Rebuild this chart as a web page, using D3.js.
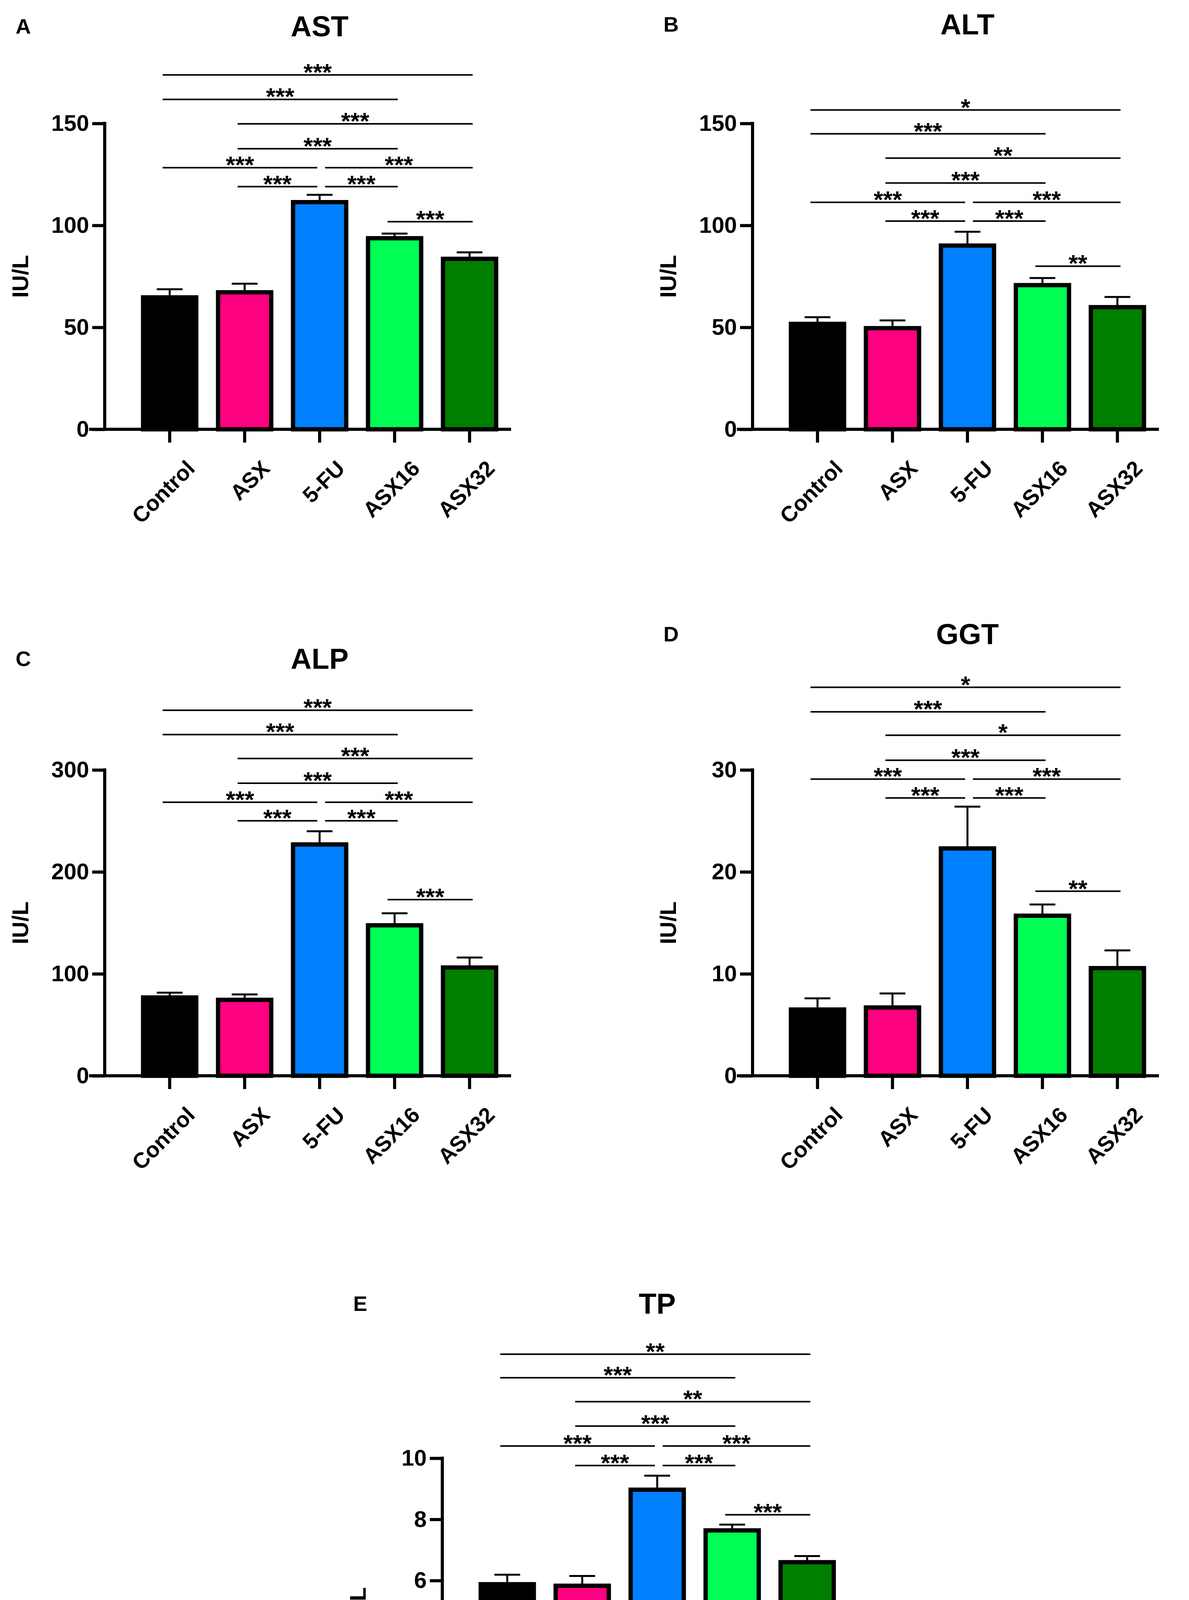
<!DOCTYPE html>
<html>
<head>
<meta charset="utf-8">
<script src="https://cdn.jsdelivr.net/npm/d3@7"></script>
<style>
  body { margin: 0; background: #fff; }
  svg { display: block; }
  text { font-family: "Liberation Sans", Arial, sans-serif; font-weight: bold; }
  .tick text { font-family: "Liberation Sans Narrow", "Liberation Sans", Arial, sans-serif; }
</style>
</head>
<body>
<svg id="fig" width="3043" height="4748"></svg>
<script>
var groups = ['Control', 'ASX', '5-FU', 'ASX16', 'ASX32'];
var colors = ['#000000', '#ff0080', '#0080ff', '#00ff55', '#007f00'];

// means and upper error bar (mean + error)
var astMean = [64.7, 67.2, 111.4, 93.7, 83.6];
var astTop  = [68.7, 71.4, 115, 96, 86.8];
var altMean = [51.7, 49.6, 90.1, 70.7, 59.9];
var altTop  = [55, 53.4, 96.9, 74.2, 64.9];
var alpMean = [76.8, 74.5, 226.9, 147.6, 106.2];
var alpTop  = [81.5, 79.8, 239.8, 159.4, 116];
var ggtMean = [6.5, 6.7, 22.3, 15.7, 10.56];
var ggtTop  = [7.6, 8.07, 26.4, 16.8, 12.3];
var tpMean  = [5.88, 5.83, 8.97, 7.64, 6.6];
var tpTop   = [6.19, 6.15, 9.43, 7.83, 6.8];

// comparison pairs, shared by all panels
var pairs = [[0, 4], [0, 3], [1, 4], [1, 3], [0, 2], [2, 4], [1, 2], [2, 3], [3, 4]];
// bracket heights in data units, per panel
var astSigY = [173.8, 161.8, 149.8, 137.6, 128.3, 128.3, 119, 119, 101.8];
var altSigY = [156.6, 144.9, 133, 120.8, 111.3, 111.3, 102.1, 102.1, 80];
var alpSigY = [358.5, 334.7, 311.2, 287, 268.3, 268.3, 250.1, 250.1, 172.8];
var ggtSigY = [38.1, 35.7, 33.4, 30.95, 29.1, 29.1, 27.25, 27.25, 18.1];
var tpSigY  = [13.4, 12.63, 11.85, 11.05, 10.4, 10.4, 9.76, 9.76, 8.15];
var astSig = ['***', '***', '***', '***', '***', '***', '***', '***', '***'];
var altSig = ['*', '***', '**', '***', '***', '***', '***', '***', '**'];
var alpSig = ['***', '***', '***', '***', '***', '***', '***', '***', '***'];
var ggtSig = ['*', '***', '*', '***', '***', '***', '***', '***', '**'];
var tpSig  = ['**', '***', '**', '***', '***', '***', '***', '***', '***'];

var panels = [
  {letter: 'A', title: 'AST', unit: 'IU/L', max: 150, ticks: [0, 50, 100, 150], mean: astMean, top: astTop, sigY: astSigY, sig: astSig, ox: 0, oy: 0, ty: 67},
  {letter: 'B', title: 'ALT', unit: 'IU/L', max: 150, ticks: [0, 50, 100, 150], mean: altMean, top: altTop, sigY: altSigY, sig: altSig, ox: 1658, oy: 0, ty: 62},
  {letter: 'C', title: 'ALP', unit: 'IU/L', max: 300, ticks: [0, 100, 200, 300], mean: alpMean, top: alpTop, sigY: alpSigY, sig: alpSig, ox: 0, oy: 1655, ty: 31},
  {letter: 'D', title: 'GGT', unit: 'IU/L', max: 30, ticks: [0, 10, 20, 30], mean: ggtMean, top: ggtTop, sigY: ggtSigY, sig: ggtSig, ox: 1658, oy: 1655, ty: -32},
  {letter: 'E', title: 'TP', unit: 'g/dL', max: 10, ticks: [0, 2, 4, 6, 8, 10], mean: tpMean, top: tpTop, sigY: tpSigY, sig: tpSig, ox: 864, oy: 3417, ty: -80}
];

var svg = d3.select('#fig');
var axisX = 268, axisTop = 316, axisBottom = 1099;
var barW = 136;

panels.forEach(function(p) {
  var g = svg.append('g').attr('transform', 'translate(' + p.ox + ',' + p.oy + ')');

  var x = d3.scaleBand().domain(groups).range([axisX + 30, axisX + 1070]).paddingInner(0.34).paddingOuter(0.38);
  var y = d3.scaleLinear().domain([0, p.max]).range([axisBottom, axisTop]);
  var cx = function(i) { return x(groups[i]) + x.bandwidth() / 2; };

  g.append('text').attr('x', 40).attr('y', p.ty).attr('dy', '0.35em').attr('font-size', 54).text(p.letter);
  g.append('text').attr('x', cx(2)).attr('y', p.ty).attr('dy', '0.35em').attr('text-anchor', 'middle').attr('font-size', 74).text(p.title);

  // error bars (upper only)
  p.mean.forEach(function(m, i) {
    g.append('line').attr('x1', cx(i)).attr('x2', cx(i)).attr('y1', y(m)).attr('y2', y(p.top[i]))
      .attr('stroke', '#000').attr('stroke-width', 5);
    g.append('line').attr('x1', cx(i) - 33).attr('x2', cx(i) + 33).attr('y1', y(p.top[i])).attr('y2', y(p.top[i]))
      .attr('stroke', '#000').attr('stroke-width', 5);
  });

  g.selectAll('rect.bar').data(p.mean).enter().append('rect')
    .attr('class', 'bar')
    .attr('x', function(d, i) { return cx(i) - barW / 2; })
    .attr('y', function(d) { return y(d); })
    .attr('width', barW)
    .attr('height', function(d) { return y(0) - y(d); })
    .attr('fill', function(d, i) { return colors[i]; })
    .attr('stroke', '#000')
    .attr('stroke-width', 11);

  var yAxis = g.append('g').attr('transform', 'translate(' + axisX + ',0)')
    .call(d3.axisLeft(y).tickValues(p.ticks).tickSize(32).tickPadding(8));
  yAxis.selectAll('path, line').attr('stroke', '#000').attr('stroke-width', 8);
  yAxis.select('.domain').attr('d', 'M0,' + (axisTop - 4) + 'V' + axisBottom);
  yAxis.selectAll('text').attr('font-size', 58).attr('fill', '#000');

  var xAxis = g.append('g').attr('transform', 'translate(0,' + axisBottom + ')')
    .call(d3.axisBottom(x).tickSize(34).tickPadding(14));
  xAxis.selectAll('path, line').attr('stroke', '#000').attr('stroke-width', 8);
  xAxis.select('.domain').attr('d', 'M' + (axisX - 40) + ',0H' + (axisX + 1040));
  xAxis.selectAll('text').attr('font-size', 56).attr('fill', '#000')
    .attr('text-anchor', 'end').attr('dy', '0.35em')
    .attr('transform', 'translate(20,56) rotate(-45)');

  g.append('text').attr('transform', 'translate(72,' + ((axisTop + axisBottom) / 2) + ') rotate(-90)')
    .attr('text-anchor', 'middle').attr('font-size', 58).text(p.unit);

  // significance brackets
  pairs.forEach(function(pr, k) {
    var x1 = cx(pr[0]) + (pr[0] === 2 ? 14 : -18);
    var x2 = cx(pr[1]) + (pr[1] === 2 ? -6 : 8);
    var yy = y(p.sigY[k]);
    g.append('line').attr('x1', x1).attr('x2', x2).attr('y1', yy).attr('y2', yy)
      .attr('stroke', '#000').attr('stroke-width', 4);
    g.append('text').attr('x', (x1 + x2) / 2).attr('y', yy + 14).attr('text-anchor', 'middle')
      .attr('font-size', 62).text(p.sig[k]);
  });
});
</script>
</body>
</html>
